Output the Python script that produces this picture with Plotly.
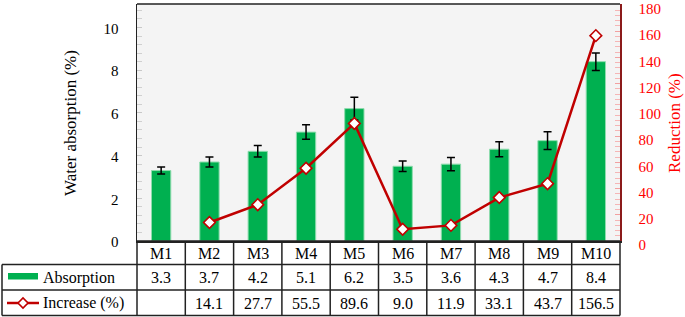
import plotly.graph_objects as go

categories = ["M1", "M2", "M3", "M4", "M5", "M6", "M7", "M8", "M9", "M10"]
absorption = [3.3, 3.7, 4.2, 5.1, 6.2, 3.5, 3.6, 4.3, 4.7, 8.4]
absorption_err = [0.16, 0.24, 0.27, 0.34, 0.53, 0.25, 0.31, 0.35, 0.42, 0.41]
increase = [None, 14.1, 27.7, 55.5, 89.6, 9.0, 11.9, 33.1, 43.7, 156.5]
increase_labels = ["", "14.1", "27.7", "55.5", "89.6", "9.0", "11.9", "33.1", "43.7", "156.5"]
left_ticks = [0, 2, 4, 6, 8, 10]
right_ticks = [0, 20, 40, 60, 80, 100, 120, 140, 160, 180]

W, H = 685, 317
L, R, T, B = 137, 65, 4, 76
PW = W - L - R
PH = H - T - B
FONT = "Liberation Serif, Times New Roman, DejaVu Serif, serif"

def px(xp):
    return (xp - L) / PW

def py(yp):
    return (H - B - yp) / PH

fig = go.Figure()
fig.add_trace(go.Bar(
    x=categories, y=absorption, width=0.4,
    marker=dict(color="#00b050", line=dict(color="#8fdcae", width=1)),
    error_y=dict(type="data", array=absorption_err, color="black", thickness=1.5, width=4),
    name="Absorption", showlegend=False, hoverinfo="skip",
))
fig.add_trace(go.Scatter(
    x=categories, y=increase, yaxis="y2", mode="lines+markers",
    line=dict(color="#c00000", width=2.5),
    marker=dict(symbol="diamond", size=9, color="white", line=dict(color="#c00000", width=1.6)),
    name="Increase (%)", showlegend=False, hoverinfo="skip",
))

shapes = []
annotations = []
line_k = dict(color="#222222", width=1.5)
shapes.append(dict(type="line", xref="paper", yref="paper", x0=0, x1=1, y0=1, y1=1, line=line_k))
y_rows = [241, 264.5, 290, 315.5]
for i, yy in enumerate(y_rows):
    x0 = 0 if i == 0 else px(2)
    shapes.append(dict(type="line", xref="paper", yref="paper", x0=x0, x1=1, y0=py(yy), y1=py(yy), line=line_k))
shapes.append(dict(type="line", xref="paper", yref="paper", x0=px(2), x1=px(2), y0=py(264.5), y1=py(315.5), line=line_k))
shapes.append(dict(type="line", xref="paper", yref="paper", x0=0, x1=0, y0=py(241), y1=py(315.5), line=line_k))
shapes.append(dict(type="line", xref="paper", yref="paper", x0=1, x1=1, y0=py(241), y1=py(315.5), line=line_k))
for i in range(len(categories) - 1):
    shapes.append(dict(type="line", xref="x", yref="paper", x0=i + 0.5, x1=i + 0.5, y0=py(241), y1=py(315.5), line=line_k))
shapes.append(dict(type="rect", xref="paper", yref="paper", x0=px(8), x1=px(38), y0=py(279.5), y1=py(273),
                   fillcolor="#00b050", line=dict(width=0)))
shapes.append(dict(type="line", xref="paper", yref="paper", x0=px(7), x1=px(39), y0=py(303), y1=py(303),
                   line=dict(color="#c00000", width=2.5)))
cx, cy, d = 23, 303, 5
shapes.append(dict(type="path", xref="paper", yref="paper",
                   path=f"M {px(cx-d)},{py(cy)} L {px(cx)},{py(cy-d)} L {px(cx+d)},{py(cy)} L {px(cx)},{py(cy+d)} Z",
                   fillcolor="white", line=dict(color="#c00000", width=1.6)))

tf = dict(family=FONT, size=16, color="black")
def ann(x, y, text, xref="x", xanchor="center", font=tf, angle=0):
    annotations.append(dict(x=x, y=y, xref=xref, yref="paper", text=text, showarrow=False,
                            xanchor=xanchor, yanchor="middle", font=font, textangle=angle))

for i, c in enumerate(categories):
    ann(c, py(253), c)
    ann(c, py(277.5), f"{absorption[i]:.1f}")
    ann(c, py(303), increase_labels[i])
ann(px(41), py(277.5), "Absorption", xref="paper", xanchor="left")
ann(px(41), py(303), "Increase (%)", xref="paper", xanchor="left")
ann(px(70), py(123), "Water absorption (%)", xref="paper", font=dict(family=FONT, size=17, color="black"), angle=-90)
ann(px(674), py(123), "Reduction (%)", xref="paper", font=dict(family=FONT, size=17, color="#ff0000"), angle=-90)

fig.update_layout(
    width=W, height=H, margin=dict(l=L, r=R, t=T, b=B, autoexpand=False),
    paper_bgcolor="white", plot_bgcolor="#f4f4f4",
    bargap=0.6, showlegend=False, hovermode=False,
    font=dict(family=FONT),
    shapes=shapes, annotations=annotations,
    xaxis=dict(type="category", range=[-0.5, 9.5], showticklabels=False, ticks="", showgrid=False,
               showline=True, linecolor="#222222", linewidth=1.5, zeroline=False, automargin=False),
    yaxis=dict(range=[0, 11.1], tickvals=left_ticks, showgrid=False, zeroline=False,
               showline=True, linecolor="#222222", linewidth=1.5, automargin=False,
               ticks="inside", ticklen=5, tickcolor="#c8c8c8", ticklabelstandoff=14,
               ticklabeloverflow="allow", ticklabelshift=1,
               minor=dict(dtick=0.4, ticks="inside", ticklen=5, tickcolor="#d0d0d0"),
               tickfont=dict(family=FONT, size=15, color="black")),
    yaxis2=dict(range=[0, 180.6], tickvals=right_ticks, overlaying="y", side="right", showgrid=False, zeroline=False,
                showline=True, linecolor="#8b1a1a", linewidth=1.5, automargin=False,
                ticks="inside", ticklen=5, tickcolor="#f2a0a0", ticklabelstandoff=14,
                ticklabeloverflow="allow", ticklabelshift=4,
                minor=dict(dtick=4, ticks="inside", ticklen=5, tickcolor="#f5b5b5"),
                tickfont=dict(family=FONT, size=15, color="#ff0000")),
)
fig.write_html("out.html", config=dict(displayModeBar=False, staticPlot=True),
               post_script="document.body.style.margin='0px';document.body.style.padding='0px';")
